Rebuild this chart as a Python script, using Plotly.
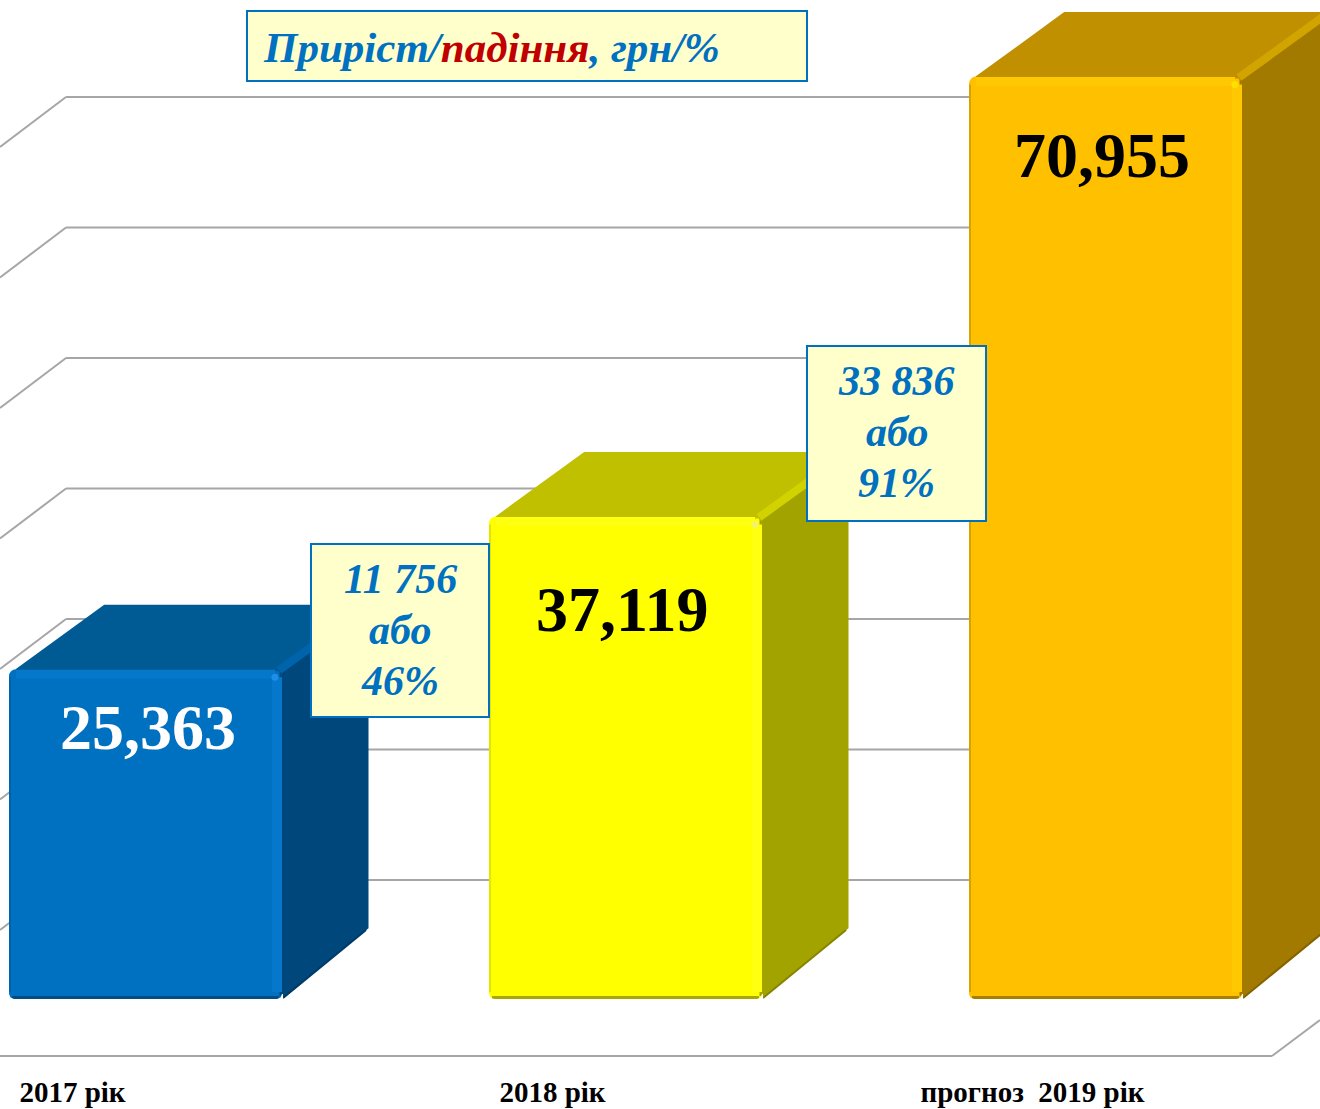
import plotly.graph_objects as go

# ---- data ----
CATEGORIES = ["2017 рік", "2018 рік", "прогноз\u00a0\u00a02019 рік"]
VALUES = [25363, 37119, 70955]
VALUE_LABELS = ["25,363", "37,119", "70,955"]
GRID_LEVELS = [9154, 19192, 29231, 39269, 49308, 59346, 69385]
FLOOR_LEVEL = -4385
CHANGE_LINES_1 = ["11 756", "або", "46%"]
CHANGE_LINES_2 = ["33 836", "або", "91%"]

FRONT = ["#0070C0", "#FFFF00", "#FFC000"]
TOP = ["#005A94", "#C0C000", "#C09000"]
SIDE = ["#00487C", "#A3A300", "#A37A00"]
SIDE_DARK = ["#003A66", "#858500", "#856300"]
EDGE = ["#0064AC", "#D2D200", "#D2A400"]
BEVEL_LIGHT = ["#0678CC", "#FFFF10", "#FFC800"]
BEVEL_DARK = ["#0064AC", "#E4E400", "#D8A200"]
BOTTOM_DARK = ["#004C84", "#A8A800", "#A88000"]
GLINT = ["#1E8EE6", "#F4F460", "#FFE000"]
LABEL_COL = ["white", "black", "black"]

SERIF = "Liberation Serif"
BLUE = "#0070C0"
RED = "#C00000"
BOX = "#FFFFCC"

# ---- scales: 480 px per category, 0.013 px per unit ----
W, H, MB = 1320, 1109, 37
PLOT_H = H - MB
PX_X = 480.0
PX_Y = 0.0130
BASE_PX = 999.0
X0_PX = 145.5
x_range = [-X0_PX / PX_X, (W - X0_PX) / PX_X]
y_range = [(BASE_PX - PLOT_H) / PX_Y, BASE_PX / PX_Y]
BAR_W = 273 / PX_X
DX = 87 / PX_X
DY = 66 / PX_Y
def px_x(n):
    return n / PX_X
def px_y(n):
    return n / PX_Y
def ppx(x):
    return x / W
def ppy(y):
    return 1 - y / PLOT_H

idx = list(range(len(VALUES)))
fig = go.Figure()

fig.add_trace(go.Bar(x=idx, y=VALUES, width=BAR_W, marker=dict(color=FRONT, line=dict(width=0)),
                     hoverinfo="skip", showlegend=False))

def poly(xs, ys, color, w=3):
    fig.add_trace(go.Scatter(x=xs, y=ys, mode="lines", fill="toself", fillcolor=color,
                             line=dict(color=color, width=w), hoverinfo="skip", showlegend=False))
def seg(xs, ys, color, w):
    fig.add_trace(go.Scatter(x=xs, y=ys, mode="lines", line=dict(color=color, width=w),
                             hoverinfo="skip", showlegend=False))
def notch(xc, sign):
    # rounds a bottom corner of a front face (sign -1: left, +1: right)
    fx = [xc - sign * px_x(5), xc - sign * px_x(1.5), xc, xc + sign * px_x(1), xc + sign * px_x(1), xc - sign * px_x(5)]
    fy = [0, px_y(1.5), px_y(5), px_y(5), -px_y(1.5), -px_y(1.5)]
    fig.add_trace(go.Scatter(x=fx, y=fy, mode="lines", fill="toself", fillcolor="white",
                             line=dict(color="white", width=0), hoverinfo="skip", showlegend=False))

for i, v in zip(idx, VALUES):
    xl, xr = i - BAR_W / 2, i + BAR_W / 2
    # top and side faces
    poly([xl + px_x(8), xl + DX + px_x(9), xr + DX - px_x(3), xr - px_x(3)],
         [v - px_y(2), v + DY - px_y(4), v + DY - px_y(4), v - px_y(2)], TOP[i], 5)
    poly([xr, xr, xr + DX - px_x(3), xr + DX - px_x(3), xr], [px_y(3), v - px_y(2), v + DY - px_y(4), px_y(72), px_y(3)], SIDE[i], 5)
    # darker lower edge of the side face
    seg([xr + px_x(1), xr + DX - px_x(3)], [px_y(1), px_y(69)], SIDE_DARK[i], 2)
    # diagonal strip between the top and side faces
    seg([xr - px_x(3), xr + DX - px_x(3)], [v - px_y(1), v + DY - px_y(4)], EDGE[i], 8)
    # bevels of the front face
    seg([xl + px_x(1), xl + px_x(1)], [px_y(7), v - px_y(8)], BEVEL_DARK[i], 2)
    seg([xr - px_x(5), xr - px_x(5)], [px_y(7), v - px_y(8)], BEVEL_LIGHT[i], 10)
    seg([xl + px_x(7), xr - px_x(7)], [v - px_y(5), v - px_y(5)], BEVEL_LIGHT[i], 9)
    seg([xl + px_x(3), xr - px_x(3)], [px_y(1.5), px_y(1.5)], BOTTOM_DARK[i], 3)
    fig.add_trace(go.Scatter(x=[xr - px_x(7)], y=[v - px_y(8)], mode="markers",
                             marker=dict(color=GLINT[i], size=7), hoverinfo="skip", showlegend=False))
    notch(xl, -1)
    notch(xr, 1)

# back wall, side wall and floor, underneath the bars
shapes = []
LINE = dict(color="#A6A6A6", width=2)
wall_x = px_x(66) - X0_PX / PX_X
for g in GRID_LEVELS:
    shapes.append(dict(type="line", xref="x", yref="y", layer="below", x0=wall_x, x1=x_range[1], y0=g, y1=g, line=LINE))
    shapes.append(dict(type="line", xref="x", yref="y", layer="below", x0=wall_x, x1=wall_x - px_x(66), y0=g, y1=g - px_y(50), line=LINE))
floor_end = (1272 - X0_PX) / PX_X
shapes.append(dict(type="line", xref="x", yref="y", layer="below", x0=x_range[0], x1=floor_end, y0=FLOOR_LEVEL, y1=FLOOR_LEVEL, line=LINE))
shapes.append(dict(type="line", xref="x", yref="y", layer="below", x0=floor_end, x1=x_range[1], y0=FLOOR_LEVEL, y1=FLOOR_LEVEL + px_y(36), line=LINE))

ann = []
# value labels
LABEL_DROP = [58, 93, 79]
LABEL_NUDGE = [2, -4, -4]
for i, v in zip(idx, VALUES):
    ann.append(dict(x=i, y=v, xref="x", yref="y", text="<b>%s</b>" % VALUE_LABELS[i], showarrow=False,
                    xshift=LABEL_NUDGE[i], yshift=-LABEL_DROP[i], yanchor="middle",
                    font=dict(family=SERIF, size=64, color=LABEL_COL[i])))

def box(x0, y0, w, h):
    ann.append(dict(x=ppx(x0), y=ppy(y0), xref="paper", yref="paper", xanchor="left", yanchor="top",
                    width=w, height=h, showarrow=False, text=" ", bgcolor=BOX, bordercolor=BLUE,
                    borderwidth=2, borderpad=0, font=dict(size=10)))

# legend box
box(246, 10, 558, 68)
ann.append(dict(x=ppx(261), y=ppy(47), xref="paper", yref="paper", xanchor="left", yanchor="middle", showarrow=False,
                text="<b><i>Приріст/<span style='color:%s'>падіння</span>, грн/%%</i></b>" % RED,
                font=dict(family=SERIF, size=43, color=BLUE)))

# growth boxes
def growth(x0, y0, w, h, lines, first):
    box(x0, y0, w, h)
    for k, t in enumerate(lines):
        ann.append(dict(x=ppx(x0 + w / 2 + 2), y=ppy(first + 51 * k), xref="paper", yref="paper",
                        xanchor="center", yanchor="middle", showarrow=False,
                        text="<b><i>%s</i></b>" % t, font=dict(family=SERIF, size=42, color=BLUE)))
growth(310, 543, 176, 171, CHANGE_LINES_1, 579)
growth(806, 345, 177, 173, CHANGE_LINES_2, 381)

fig.update_layout(
    width=W, height=H, autosize=False, showlegend=False, barmode="overlay", barcornerradius=7,
    margin=dict(l=0, r=0, t=0, b=MB, pad=0), paper_bgcolor="white", plot_bgcolor="white",
    shapes=shapes, annotations=ann,
    xaxis=dict(range=x_range, tickmode="array", tickvals=[i - 73 / PX_X for i in idx], ticktext=["<b>%s</b>" % c for c in CATEGORIES],
               showgrid=False, zeroline=False, showline=False, ticks="", tickangle=0,
               tickfont=dict(family=SERIF, size=29, color="black"), fixedrange=True, automargin=False),
    yaxis=dict(range=y_range, visible=False, showgrid=False, zeroline=False, fixedrange=True, automargin=False),
)
fig.write_html("out.html", config=dict(displayModeBar=False),
               post_script="document.body.style.margin='0';document.body.style.overflow='hidden';")
